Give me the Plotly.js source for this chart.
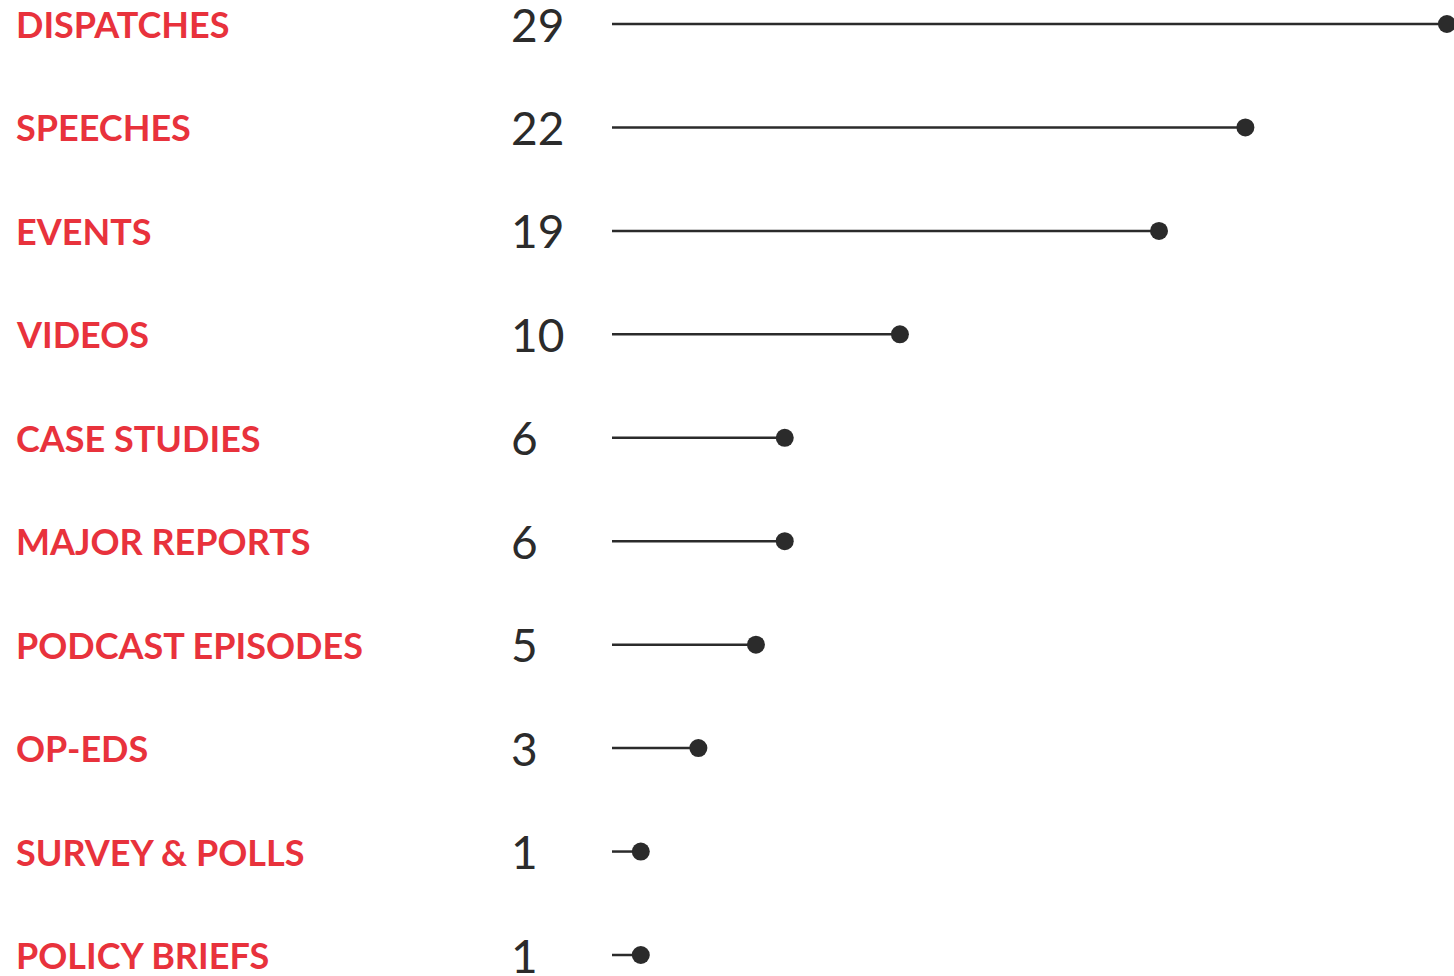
<!DOCTYPE html>
<html><head><meta charset="utf-8">
<script src="https://cdn.plot.ly/plotly-3.0.1.min.js"></script>
<style>html,body{margin:0;padding:0;background:#fff;overflow:hidden}#chart{width:1454px;height:976px}</style>
</head><body><div id="chart"></div>
<script>
const categories = ["DISPATCHES","SPEECHES","EVENTS","VIDEOS","CASE STUDIES","MAJOR REPORTS","PODCAST EPISODES","OP-EDS","SURVEY & POLLS","POLICY BRIEFS"];
const counts = [29,22,19,10,6,6,5,3,1,1];

const idx = categories.map((c,i)=>i);
const lx = [], ly = [];
counts.forEach((v,i)=>{ lx.push(0, v, null); ly.push(i, i, null); });

const traces = [
  {x: lx, y: ly, mode: 'lines', type: 'scatter', line: {color: '#2b2b2b', width: 2.5}, hoverinfo: 'skip', cliponaxis: false},
  {x: counts, y: idx, mode: 'markers', type: 'scatter', marker: {color: '#2b2b2b', size: 18}, cliponaxis: false}
];

const annotations = [];
categories.forEach((c,i)=>{
  annotations.push({xref:'paper', yref:'y', x: 15/1454, y: i, xanchor:'left', yanchor:'middle', showarrow:false, borderpad:0,
    text: c.replace('&','&amp;'), font:{family:'Lato, sans-serif', size:36, color:'#e8323c', weight:700}});
  annotations.push({xref:'paper', yref:'y', x: 510/1454, y: i, xanchor:'left', yanchor:'middle', showarrow:false, borderpad:0,
    text: String(counts[i]), font:{family:'Lato, sans-serif', size:46, color:'#2b2b2b', weight:400}});
});

const pxPerUnit = 28.79;
const layout = {
  width: 1454, height: 976,
  margin: {l:0, r:0, t:0, b:0},
  paper_bgcolor: '#fff', plot_bgcolor: '#fff',
  showlegend: false,
  xaxis: {domain:[612/1454, 1], range:[0, 842/pxPerUnit], visible:false, fixedrange:true},
  yaxis: {range:[9 + 21/103.44, -24/103.44], visible:false, fixedrange:true},
  annotations: annotations
};
Plotly.newPlot('chart', traces, layout, {displayModeBar:false, staticPlot:true});
</script></body></html>
